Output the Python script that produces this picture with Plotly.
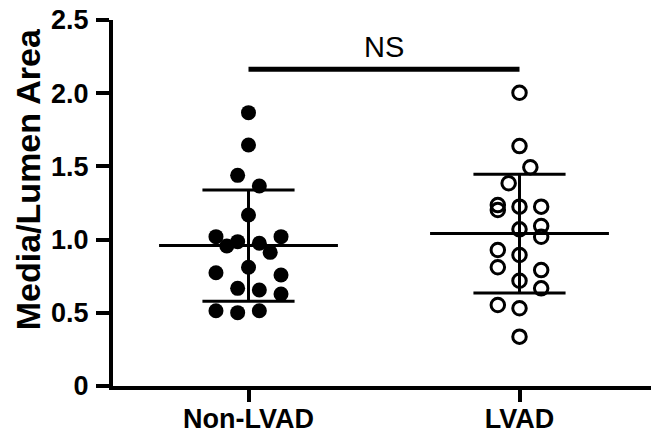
import numpy as np
import plotly.graph_objects as go

# ---- data ----
categories = ["Non-LVAD", "LVAD"]

non_lvad_values = [1.867, 1.646, 1.439, 1.366, 1.168, 1.020, 0.956, 0.986, 0.975, 0.913,
                   1.020, 0.811, 0.774, 0.758, 0.667, 0.656, 0.628, 0.514, 0.501, 0.514]
non_lvad_jitter = [0, 0, -0.04, 0.04, 0, -0.12, -0.08, -0.04, 0.04, 0.08,
                   0.12, 0, -0.12, 0.12, -0.04, 0.04, 0.12, -0.12, -0.04, 0.04]

lvad_values = [2.003, 1.639, 1.494, 1.385, 1.236, 1.202, 1.225, 1.225, 1.070, 1.093,
               1.020, 0.929, 0.895, 0.811, 0.792, 0.719, 0.667, 0.553, 0.531, 0.337]
lvad_jitter = [0, 0, 0.04, -0.04, -0.08, -0.08, 0, 0.08, 0, 0.08,
               0.08, -0.08, 0, -0.08, 0.08, 0, 0.08, -0.08, 0, 0]

y_tick_vals = [0, 0.5, 1.0, 1.5, 2.0, 2.5]
y_tick_text = ["0", "0.5", "1.0", "1.5", "2.0", "2.5"]
y_title = "Media/Lumen Area"

sig_label = "NS"
sig_bar_y = 2.163

FONT = "Liberation Sans, Arial, sans-serif"
BLACK = "#000000"

fig = go.Figure()

groups = [
    (0, non_lvad_values, non_lvad_jitter, dict(symbol="circle", size=15, color=BLACK)),
    (1, lvad_values, lvad_jitter, dict(symbol="circle-open", size=13.5, color=BLACK,
                                        line=dict(width=3, color=BLACK))),
]

MEAN_HALF = 0.33
CAP_HALF = 0.17

for pos, vals, jit, marker in groups:
    arr = np.array(vals)
    m = arr.mean()
    sd = arr.std(ddof=1)
    xs = [pos - MEAN_HALF, pos + MEAN_HALF, None,
          pos, pos, None,
          pos - CAP_HALF, pos + CAP_HALF, None,
          pos - CAP_HALF, pos + CAP_HALF]
    ys = [m, m, None,
          m - sd, m + sd, None,
          m + sd, m + sd, None,
          m - sd, m - sd]
    fig.add_trace(go.Scatter(x=xs, y=ys, mode="lines",
                             line=dict(color=BLACK, width=3),
                             hoverinfo="skip", showlegend=False))
    fig.add_trace(go.Scatter(x=[pos + j for j in jit], y=vals, mode="markers",
                             marker=marker, name=categories[pos], showlegend=False,
                             cliponaxis=False))

# significance bar
fig.add_shape(type="line", xref="x", yref="y", x0=0, x1=1, y0=sig_bar_y, y1=sig_bar_y,
              line=dict(color=BLACK, width=5))
fig.add_annotation(x=0.5, y=sig_bar_y, xref="x", yref="y", text=sig_label,
                   showarrow=False, yanchor="bottom", yshift=4,
                   font=dict(family=FONT, size=29, color=BLACK))

# y-axis title (placed as rotated annotation, matching reference position)
fig.add_annotation(x=-85 / 542, y=0.565, xref="paper", yref="paper", text=y_title,
                   textangle=-90, showarrow=False, xanchor="center", yanchor="middle",
                   font=dict(family=FONT, size=34, color=BLACK, weight="bold"))

# the page body adds an 8px margin, so the figure is 8px smaller on each side
fig.update_layout(
    width=651, height=422,
    margin=dict(l=105, r=4, t=12, b=44),
    plot_bgcolor="white", paper_bgcolor="white",
    font=dict(family=FONT, color=BLACK),
    showlegend=False,
)

fig.update_xaxes(
    range=[-0.5, 1.5], tickvals=[0, 1], ticktext=categories,
    showline=True, linecolor=BLACK, linewidth=4,
    ticks="outside", ticklen=12, tickwidth=4, tickcolor=BLACK,
    tickfont=dict(family=FONT, size=27, color=BLACK, weight="bold"),
    ticklabelstandoff=-6, ticklabeloverflow="allow",
    showgrid=False, zeroline=False, automargin=False,
)
fig.update_yaxes(
    range=[0, 2.5], tickvals=y_tick_vals, ticktext=y_tick_text,
    showline=True, linecolor=BLACK, linewidth=4,
    ticks="outside", ticklen=13, tickwidth=4, tickcolor=BLACK,
    tickfont=dict(family=FONT, size=27, color=BLACK, weight="bold"),
    ticklabelstandoff=2, ticklabeloverflow="allow",
    showgrid=False, zeroline=False, automargin=False,
)

fig.write_html("out.html")
